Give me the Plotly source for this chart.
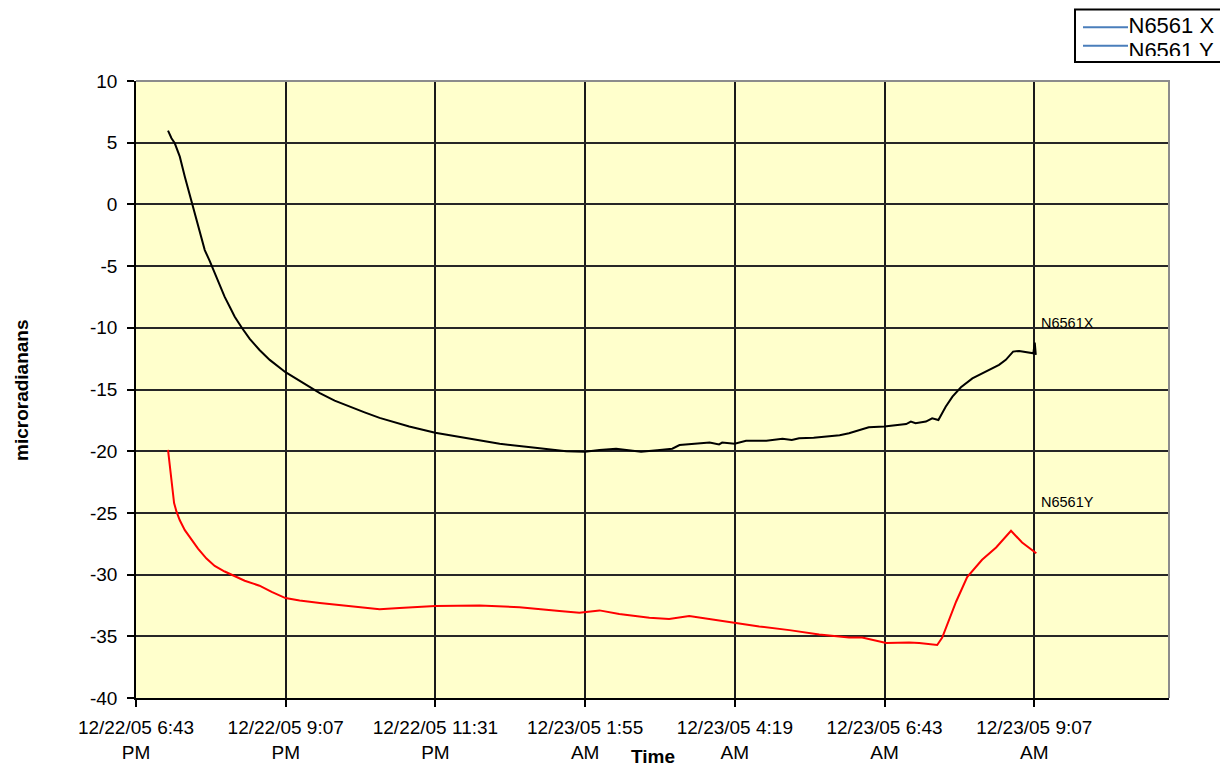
import plotly.graph_objects as go

# ---------------- data ----------------
x_series_name = "N6561X"
y_series_name = "N6561Y"
legend_names = ["N6561 X", "N6561 Y"]

x_times = [
    "2005-12-22 19:14:00", "2005-12-22 19:17:20", "2005-12-22 19:20:30", "2005-12-22 19:25:20",
    "2005-12-22 19:30:10", "2005-12-22 19:35:00", "2005-12-22 19:39:40", "2005-12-22 19:44:30",
    "2005-12-22 19:49:20", "2005-12-22 19:54:10", "2005-12-22 19:58:54", "2005-12-22 20:03:45",
    "2005-12-22 20:08:30", "2005-12-22 20:13:20", "2005-12-22 20:18:10", "2005-12-22 20:25:00",
    "2005-12-22 20:32:35", "2005-12-22 20:42:00", "2005-12-22 20:51:50", "2005-12-22 21:07:00",
    "2005-12-22 21:20:36", "2005-12-22 21:40:00", "2005-12-22 21:54:15", "2005-12-22 22:09:00",
    "2005-12-22 22:23:05", "2005-12-22 22:37:30", "2005-12-22 22:51:55", "2005-12-22 23:06:00",
    "2005-12-22 23:31:00", "2005-12-23 00:04:00",
    "2005-12-23 00:33:00", "2005-12-23 01:05:00", "2005-12-23 01:37:00", "2005-12-23 01:55:00",
    "2005-12-23 02:09:00", "2005-12-23 02:25:00", "2005-12-23 02:49:00", "2005-12-23 03:07:00",
    "2005-12-23 03:19:00", "2005-12-23 03:26:00", "2005-12-23 03:45:00", "2005-12-23 03:55:00",
    "2005-12-23 04:04:00", "2005-12-23 04:07:00", "2005-12-23 04:19:00", "2005-12-23 04:30:00",
    "2005-12-23 04:49:30", "2005-12-23 05:05:00", "2005-12-23 05:14:00", "2005-12-23 05:21:00",
    "2005-12-23 05:35:00", "2005-12-23 05:50:00", "2005-12-23 06:00:00", "2005-12-23 06:09:00",
    "2005-12-23 06:19:00", "2005-12-23 06:28:00", "2005-12-23 06:43:00", "2005-12-23 06:54:00",
    "2005-12-23 07:04:00", "2005-12-23 07:08:30", "2005-12-23 07:13:00", "2005-12-23 07:23:00",
    "2005-12-23 07:29:00", "2005-12-23 07:35:00", "2005-12-23 07:42:00", "2005-12-23 07:48:30",
    "2005-12-23 07:56:40", "2005-12-23 08:07:40", "2005-12-23 08:20:40", "2005-12-23 08:33:20",
    "2005-12-23 08:39:50", "2005-12-23 08:46:50", "2005-12-23 08:52:40", "2005-12-23 08:59:00",
    "2005-12-23 09:06:20", "2005-12-23 09:07:40", "2005-12-23 09:08:40",
]
x_values = [
    5.98, 5.36, 4.95, 3.87,
    2.25, 0.76, -0.86, -2.34,
    -3.70, -4.6, -5.6, -6.6,
    -7.5, -8.3, -9.1, -10.0,
    -10.9, -11.8, -12.6, -13.6,
    -14.3, -15.3, -15.9, -16.4,
    -16.85, -17.3, -17.65, -18.0,
    -18.5, -19.0,
    -19.4, -19.7, -20.0, -20.05,
    -19.9, -19.8, -20.05, -19.9,
    -19.8, -19.5, -19.4, -19.3,
    -19.45, -19.3, -19.4, -19.15,
    -19.15, -19.0, -19.1, -18.95,
    -18.9, -18.8, -18.7, -18.55,
    -18.28, -18.06, -18.0, -17.88,
    -17.8, -17.6, -17.74, -17.6,
    -17.33, -17.47, -16.4, -15.58,
    -14.82, -14.1, -13.55, -13.0,
    -12.6, -11.93, -11.88, -11.99,
    -12.07, -11.2, -12.2,
]

y_times = [
    "2005-12-22 19:14:00", "2005-12-22 19:15:00", "2005-12-22 19:16:20", "2005-12-22 19:17:50",
    "2005-12-22 19:19:50", "2005-12-22 19:22:10", "2005-12-22 19:25:20", "2005-12-22 19:30:10",
    "2005-12-22 19:36:30", "2005-12-22 19:42:50", "2005-12-22 19:51:00", "2005-12-22 19:58:54",
    "2005-12-22 20:08:30", "2005-12-22 20:15:00", "2005-12-22 20:27:45", "2005-12-22 20:42:00",
    "2005-12-22 20:53:40", "2005-12-22 21:07:00", "2005-12-22 21:20:36", "2005-12-22 21:40:00",
    "2005-12-22 22:18:00",
    "2005-12-22 22:37:30", "2005-12-22 22:56:40", "2005-12-22 23:31:00", "2005-12-23 00:13:40",
    "2005-12-23 00:52:00", "2005-12-23 01:30:30", "2005-12-23 01:49:40", "2005-12-23 02:09:00",
    "2005-12-23 02:28:00", "2005-12-23 02:57:00", "2005-12-23 03:16:00", "2005-12-23 03:35:20",
    "2005-12-23 03:54:40", "2005-12-23 04:19:00", "2005-12-23 04:42:40", "2005-12-23 05:11:40",
    "2005-12-23 05:40:20", "2005-12-23 06:09:00", "2005-12-23 06:21:40", "2005-12-23 06:44:50",
    "2005-12-23 07:06:50", "2005-12-23 07:16:30", "2005-12-23 07:33:50", "2005-12-23 07:38:40",
    "2005-12-23 07:45:20", "2005-12-23 07:52:00", "2005-12-23 08:02:40", "2005-12-23 08:17:00",
    "2005-12-23 08:30:30", "2005-12-23 08:44:50", "2005-12-23 08:55:30", "2005-12-23 09:09:10",
]
y_values = [
    -19.9, -20.7, -21.8, -23.1,
    -24.2, -24.9, -25.6, -26.4,
    -27.2, -27.9, -28.7, -29.3,
    -29.75, -30.0, -30.5, -30.9,
    -31.4, -31.9, -32.1, -32.3,
    -32.6,
    -32.8, -32.7, -32.55, -32.5,
    -32.65, -32.95, -33.1, -32.9,
    -33.2, -33.5, -33.6, -33.35,
    -33.6, -33.9, -34.2, -34.5,
    -34.85, -35.1, -35.1, -35.55,
    -35.5, -35.55, -35.7, -35.1,
    -33.7, -32.2, -30.2, -28.8,
    -27.8, -26.45, -27.4, -28.27,
]

x_tick_vals = [
    "2005-12-22 18:43:12", "2005-12-22 21:07:12", "2005-12-22 23:31:12", "2005-12-23 01:55:12",
    "2005-12-23 04:19:12", "2005-12-23 06:43:12", "2005-12-23 09:07:12",
]
x_tick_text = [
    "12/22/05 6:43<br>PM", "12/22/05 9:07<br>PM", "12/22/05 11:31<br>PM", "12/23/05 1:55<br>AM",
    "12/23/05 4:19<br>AM", "12/23/05 6:43<br>AM", "12/23/05 9:07<br>AM",
]
x_range = ["2005-12-22 18:43:12", "2005-12-23 11:16:48"]
y_tick_vals = [-40, -35, -30, -25, -20, -15, -10, -5, 0, 5, 10]
y_tick_text = ["-40", "-35", "-30", "-25", "-20", "-15", "-10", "-5", "0", "5", "10"]
y_range = [-40, 10]

# label anchor points (data coordinates)
x_label_pos = ("2005-12-23 09:11:40", -9.6)
y_label_pos = ("2005-12-23 09:11:40", -24.1)

# ---------------- layout geometry (pixels) ----------------
W, H = 1220, 768
L, R, T, B = 136, 1169, 81, 698
FONT = "Arial, Liberation Sans, Helvetica, sans-serif"

def px(xp):
    return xp / W

def py(yp):
    return 1 - yp / H

fig = go.Figure()

fig.add_trace(go.Scatter(
    x=x_times, y=x_values, mode="lines", name=x_series_name,
    line=dict(color="#000000", width=2), hoverinfo="skip",
    xaxis="x", yaxis="y",
))
fig.add_trace(go.Scatter(
    x=y_times, y=y_values, mode="lines", name=y_series_name,
    line=dict(color="#FF0000", width=2), hoverinfo="skip",
    xaxis="x", yaxis="y",
))

# legend text, clipped by its own (hidden) subplot like the reference box
LEG_L, LEG_R, LEG_T, LEG_B = 1076, 1220, 10.5, 56.0
fig.add_trace(go.Scatter(
    x=[1128.5, 1128.5], y=[27.0, 52.0], mode="text", text=legend_names,
    textposition="middle right", cliponaxis=True,
    textfont=dict(family=FONT, size=22, color="#000000"),
    hoverinfo="skip", xaxis="x2", yaxis="y2",
))

fig.update_layout(
    template="none",
    width=W, height=H, autosize=False,
    margin=dict(l=0, r=0, t=0, b=0, pad=0),
    paper_bgcolor="#FFFFFF",
    plot_bgcolor="rgba(0,0,0,0)",
    showlegend=False,
    font=dict(family=FONT, size=19, color="#000000"),
    xaxis=dict(
        type="date", domain=[px(L), px(R)], range=x_range, automargin=False,
        tickmode="array", tickvals=x_tick_vals, ticktext=x_tick_text,
        ticks="outside", ticklen=7, tickwidth=1.5, tickcolor="#000000",
        showgrid=True, gridcolor="#1a1a1a", gridwidth=1.5,
        showline=True, linecolor="#000000", linewidth=2,
        zeroline=False, anchor="y", fixedrange=True,
        ticklabelstandoff=4,
        tickfont=dict(family=FONT, size=19, color="#000000"),
    ),
    yaxis=dict(
        domain=[py(B), py(T)], range=y_range, automargin=False,
        tickmode="array", tickvals=y_tick_vals, ticktext=y_tick_text,
        ticks="outside", ticklen=7, tickwidth=1.5, tickcolor="#000000",
        showgrid=True, gridcolor="#262626", gridwidth=1.5,
        showline=True, linecolor="#000000", linewidth=1.5,
        zeroline=False, anchor="x", fixedrange=True,
        ticklabelstandoff=6,
        tickfont=dict(family=FONT, size=19, color="#000000"),
    ),
    xaxis2=dict(domain=[px(LEG_L), px(LEG_R)], range=[LEG_L, LEG_R], automargin=False,
                visible=False, anchor="y2", fixedrange=True),
    yaxis2=dict(domain=[py(LEG_B), py(LEG_T)], range=[LEG_B, LEG_T], automargin=False,
                visible=False, anchor="x2", fixedrange=True),
)

shapes = [
    # plot area fill
    dict(type="rect", xref="x domain", yref="y domain", x0=0, x1=1, y0=0, y1=1,
         fillcolor="#FFFFCC", line=dict(width=0), layer="below"),
    # gray frame top and right
    dict(type="line", xref="paper", yref="paper", x0=px(L), x1=px(R + 1), y0=py(T), y1=py(T),
         line=dict(color="#8c8c8c", width=2), layer="above"),
    dict(type="line", xref="paper", yref="paper", x0=px(R), x1=px(R), y0=py(T), y1=py(B),
         line=dict(color="#8c8c8c", width=2), layer="above"),
    # legend box
    dict(type="rect", xref="paper", yref="paper", x0=px(1075), x1=px(1240), y0=py(62), y1=py(9.5),
         line=dict(color="#000000", width=2), fillcolor="rgba(0,0,0,0)", layer="above"),
    dict(type="line", xref="paper", yref="paper", x0=px(1083), x1=px(1128), y0=py(27.3), y1=py(27.3),
         line=dict(color="#4A7EBB", width=2)),
    dict(type="line", xref="paper", yref="paper", x0=px(1083), x1=px(1128), y0=py(45.7), y1=py(45.7),
         line=dict(color="#4A7EBB", width=2)),
]
fig.update_layout(shapes=shapes)

annotations = [
    dict(text=x_series_name, x=x_label_pos[0], y=x_label_pos[1], xref="x", yref="y",
         xanchor="left", yanchor="middle", showarrow=False,
         font=dict(family=FONT, size=14.5, color="#000000")),
    dict(text=y_series_name, x=y_label_pos[0], y=y_label_pos[1], xref="x", yref="y",
         xanchor="left", yanchor="middle", showarrow=False,
         font=dict(family=FONT, size=14.5, color="#000000")),
    dict(text="<b>Time</b>", x=px(653), y=py(768), xref="paper", yref="paper",
         xanchor="center", yanchor="bottom", showarrow=False, borderpad=0,
         font=dict(family=FONT, size=19, color="#000000")),
    dict(text="<b>microradianans</b>", x=px(21), y=py(390), xref="paper", yref="paper",
         xanchor="center", yanchor="middle", showarrow=False, textangle=-90,
         font=dict(family=FONT, size=19, color="#000000")),
]
fig.update_layout(annotations=annotations)

fig.write_html("out.html", config={"displayModeBar": False},
               post_script="document.body.style.margin='0px';document.body.style.overflow='hidden';")
